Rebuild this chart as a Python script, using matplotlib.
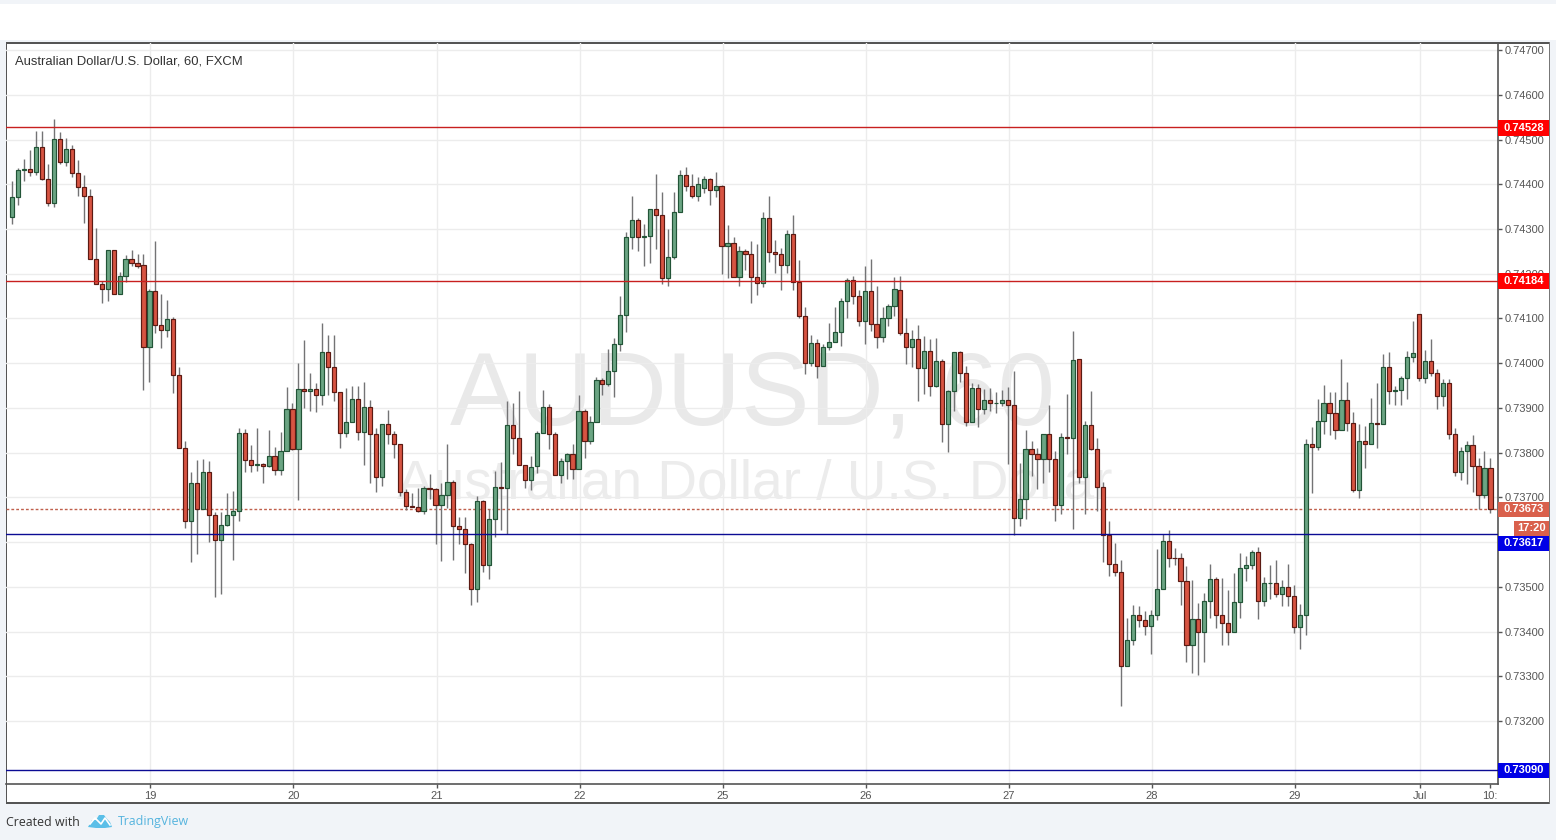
from matplotlib import pyplot as plt
from matplotlib.patches import Polygon, Rectangle
from matplotlib.ticker import FixedLocator
import numpy as np

# prices are stored in units of 0.00001
opens = [74327,74372,74433,74435,74427,74484,74412,74359,74502,74450,
         74480,74426,74395,74374,74232,74178,74167,74252,74154,74196,
         74232,74223,74219,74036,74161,74085,74074,74098,73973,73810,
         73647,73732,73674,73756,73661,73605,73638,73661,73670,73844,
         73783,73772,73774,73770,73792,73761,73803,73897,73808,73942,
         73937,73942,73928,74026,73991,73935,73844,73868,73920,73846,
         73902,73842,73746,73864,73842,73819,73712,73681,73679,73670,
         73721,73719,73683,73706,73735,73636,73629,73596,73494,73692,
         73549,73652,73723,73721,73862,73833,73772,73739,73769,73845,
         73903,73842,73751,73782,73796,73764,73894,73825,73869,73963,
         73954,73983,74043,74108,74282,74320,74282,74284,74344,74331,
         74190,74237,74338,74420,74396,74373,74391,74411,74387,74396,
         74262,74268,74193,74251,74244,74193,74179,74324,74248,74244,
         74219,74288,74181,74106,74001,74045,73994,74036,74048,74070,
         74139,74186,74150,74094,74161,74088,74059,74101,74128,74164,
         74068,74037,74055,73990,74028,73950,74004,73863,73937,74024,
         73979,73868,73944,73897,73917,73910,73912,73917,73906,73654,
         73696,73807,73798,73785,73841,73785,73682,73834,73832,74009,
         73746,73862,73808,73723,73616,73552,73534,73322,73382,73436,
         73425,73413,73436,73496,73603,73565,73564,73514,73369,73429,
         73400,73469,73518,73438,73420,73400,73467,73541,73549,73578,
         73469,73508,73509,73484,73500,73480,73411,73438,73819,73812,
         73870,73910,73888,73850,73917,73866,73716,73826,73819,73866,
         73864,73991,73937,73939,73966,74013,74111,73968,74004,73977,
         73926,73955,73841,73756,73803,73817,73770,73705,73765]
highs = [74407,74437,74457,74477,74520,74520,74445,74545,74517,74503,
         74489,74455,74420,74390,74302,74184,74252,74252,74205,74242,
         74252,74244,74245,74165,74273,74155,74141,74104,73991,73826,
         73756,73784,73786,73782,73668,73668,73710,73715,73855,73853,
         73818,73855,73777,73851,73813,73846,73946,73910,74000,74052,
         73978,73955,74089,74063,74063,73935,73944,73949,73949,73958,
         73918,73855,73864,73896,73848,73819,73719,73710,73722,73726,
         73753,73721,73732,73820,73738,73655,73656,73599,73704,73695,
         73673,73758,73780,73916,73911,73938,73772,73793,73849,73941,
         73909,73847,73789,73800,73820,73929,73897,73881,73970,73967,
         74031,74057,74151,74294,74374,74324,74312,74344,74423,74382,
         74300,74383,74432,74439,74423,74416,74419,74413,74428,74399,
         74309,74282,74262,74255,74274,74267,74338,74374,74276,74258,
         74298,74332,74231,74126,74064,74055,74044,74090,74126,74146,
         74190,74195,74164,74218,74233,74172,74126,74133,74193,74196,
         74102,74075,74085,74060,74055,74057,74010,73941,74024,74028,
         73993,73955,73953,73942,73944,73935,73940,73946,73982,73776,
         73851,73826,73810,73841,73906,73803,73843,73931,74071,74009,
         73871,73938,73833,73735,73646,73597,73561,73430,73459,73457,
         73445,73448,73584,73619,73626,73586,73575,73546,73515,73463,
         73486,73552,73523,73519,73492,73530,73575,73568,73583,73590,
         73521,73548,73561,73516,73552,73503,73461,73830,73858,73920,
         73951,73936,73936,74009,73958,73891,73864,73860,73922,73956,
         74020,74025,73949,73971,74027,74094,74111,74029,74054,73986,
         73964,73964,73855,73813,73826,73840,73788,73804,73788]
lows = [74311,74353,74407,74418,74421,74409,74351,74349,74445,74442,
        74416,74373,74314,74232,74178,74135,74140,74154,74154,74182,
        74218,74213,73939,73957,74068,74035,74059,73934,73810,73631,
        73555,73573,73674,73600,73478,73483,73635,73560,73646,73757,
        73757,73760,73731,73768,73751,73751,73803,73805,73695,73900,
        73892,73890,73907,73928,73916,73811,73836,73868,73829,73773,
        73731,73712,73726,73820,73787,73702,73671,73679,73668,73662,
        73697,73595,73558,73677,73561,73595,73530,73459,73466,73532,
        73517,73611,73626,73619,73796,73772,73722,73717,73755,73845,
        73809,73751,73732,73742,73742,73764,73787,73820,73869,73928,
        73949,73924,74028,74069,74256,74251,74218,74225,74256,74178,
        74173,74234,74338,74385,74370,74363,74381,74354,74372,74200,
        74190,74193,74172,74209,74134,74153,74171,74227,74201,74164,
        74201,74163,74100,73975,73993,73966,73994,74029,74048,74038,
        74100,74133,74084,74042,74073,74033,74048,74084,74105,74062,
        73998,73991,73916,73931,73926,73947,73824,73802,73893,73958,
        73859,73868,73857,73886,73892,73888,73904,73775,73616,73636,
        73652,73748,73719,73732,73757,73648,73663,73797,73630,73731,
        73662,73806,73669,73555,73524,73524,73234,73322,73370,73409,
        73392,73350,73426,73496,73544,73548,73460,73332,73307,73303,
        73332,73431,73408,73370,73370,73400,73431,73512,73540,73427,
        73457,73472,73478,73457,73458,73397,73361,73392,73709,73806,
        73841,73840,73831,73850,73848,73713,73699,73766,73819,73811,
        73864,73909,73907,73907,73920,74003,73960,73956,73971,73898,
        73904,73831,73748,73739,73730,73713,73674,73699,73664]
closes = [74372,74433,74434,74427,74484,74412,74359,74502,74450,74480,
          74426,74395,74374,74232,74178,74167,74252,74154,74196,74232,
          74223,74218,74036,74161,74085,74074,74098,73973,73810,73647,
          73732,73674,73756,73661,73605,73638,73661,73670,73844,73783,
          73772,73774,73770,73792,73761,73803,73897,73808,73942,73937,
          73942,73928,74026,73991,73935,73844,73868,73919,73846,73902,
          73842,73746,73864,73842,73819,73712,73681,73679,73670,73721,
          73719,73683,73706,73735,73636,73629,73596,73494,73692,73549,
          73652,73723,73721,73862,73833,73772,73739,73768,73845,73903,
          73842,73751,73782,73796,73764,73894,73825,73869,73963,73954,
          73983,74043,74108,74282,74320,74282,74284,74344,74331,74190,
          74237,74338,74420,74396,74373,74400,74411,74387,74396,74262,
          74268,74193,74251,74244,74193,74179,74324,74248,74244,74219,
          74288,74181,74106,74001,74045,73994,74036,74048,74070,74139,
          74186,74150,74094,74161,74088,74059,74101,74128,74166,74068,
          74037,74055,73990,74028,73950,74004,73863,73937,74024,73979,
          73868,73944,73897,73917,73910,73912,73917,73906,73654,73696,
          73807,73798,73785,73841,73785,73682,73834,73832,74008,73746,
          73862,73808,73723,73616,73552,73534,73322,73382,73436,73425,
          73413,73436,73496,73603,73565,73564,73514,73369,73429,73400,
          73469,73518,73438,73420,73400,73467,73541,73549,73578,73469,
          73509,73509,73484,73500,73480,73411,73438,73819,73812,73870,
          73910,73888,73850,73917,73866,73716,73826,73819,73866,73864,
          73991,73937,73939,73966,74013,74022,73968,74004,73977,73926,
          73955,73841,73756,73803,73817,73770,73705,73765,73673]

price_ticks = [0.732, 0.733, 0.734, 0.735, 0.736, 0.737, 0.738, 0.739, 0.740,
               0.741, 0.742, 0.743, 0.744, 0.745, 0.746, 0.747]
time_ticks = [23, 47, 71, 95, 119, 143, 167, 191, 215, 236, 247.8]
time_labels = ['19', '20', '21', '22', '25', '26', '27', '28', '29', 'Jul', '10:']
red_levels = [0.74528, 0.74184]
blue_levels = [0.73617, 0.73090]
last_price = 0.73673
countdown = '17:20'

W, H = 1556, 840
BG = '#f1f4f8'
GRID = '#ececec'
AXIS = '#555555'
TEXT = '#555555'
FONT = 'Liberation Sans'

plt.rcParams['font.family'] = FONT

fig = plt.figure(figsize=(W / 100, H / 100), dpi=100, facecolor=BG)


def fx(px):
    return px / W


def fy(py):
    return 1 - py / H


def box(x0, y0, x1, y1, color, zorder=5):
    fig.add_artist(Rectangle((fx(x0), fy(y1)), (x1 - x0) / W, (y1 - y0) / H,
                             transform=fig.transFigure, facecolor=color,
                             edgecolor='none', zorder=zorder))


# white strip on top, white panel and its outer frame
box(0, 4, W, 40, 'white', zorder=-5)
box(6, 42, 1549, 803, 'white', zorder=-5)
box(6, 42, 1549, 43.5, AXIS, zorder=-4)
box(6, 42, 7, 803, AXIS, zorder=-4)
box(6, 802, 1549, 803.5, AXIS, zorder=-4)
box(1548.5, 42, 1549.5, 803.5, '#777777', zorder=-4)

ax = fig.add_axes([fx(6.5), fy(784), (1498 - 6.5) / W, (784 - 43) / H])
ax.set_facecolor('none')
ax.set_xlim(-0.98, 249.27)
ax.set_ylim(0.73059, 0.74716)

for side in ['top', 'left']:
    ax.spines[side].set_visible(False)
for side in ['right', 'bottom']:
    ax.spines[side].set_color(AXIS)
    ax.spines[side].set_linewidth(1.2)

ax.yaxis.tick_right()
ax.yaxis.set_major_locator(FixedLocator(price_ticks))
# 0.73600 sits fully behind the blue price label
ax.set_yticklabels(['' if p == 0.736 else f'{p:.5f}' for p in price_ticks])
ax.xaxis.set_major_locator(FixedLocator(np.array(time_ticks) + 0.17))
ax.set_xticklabels(time_labels)
ax.tick_params(axis='both', colors=AXIS, labelcolor=TEXT, labelsize=8,
               length=3, width=1, pad=2)
ax.grid(True, color=GRID, linewidth=1)
ax.set_axisbelow(True)
# the last grid line is not visible in the original
ax.get_xgridlines()[-1].set_visible(False)

# watermark
ax.text(0.5002, 0.521, 'AUDUSD, 60', transform=ax.transAxes, ha='center',
        va='center', fontsize=74, color='#e9e9e9', zorder=0)
ax.text(0.5015, 0.4035, 'Australian Dollar / U.S. Dollar', transform=ax.transAxes,
        ha='center', va='center', fontsize=39.6, color='#ececec', zorder=0)

# horizontal levels
for level in red_levels:
    ax.axhline(level, color='#c8201f', linewidth=1, zorder=4)
for level in blue_levels:
    ax.axhline(level, color='#0b0b94', linewidth=1, zorder=4)
ax.axhline(last_price, color='#c0604c', linewidth=1, linestyle=(0, (2, 1.5)), zorder=1.5)

# candles
o = np.array(opens) / 1e5
h = np.array(highs) / 1e5
l = np.array(lows) / 1e5
c = np.array(closes) / 1e5
idx = np.arange(len(o))
up = c >= o

ax.vlines(idx, l, h, color='#737375', linewidth=1, zorder=2)
ax.bar(idx[up], (c - o)[up], bottom=o[up], width=0.7, color='#6ba583',
       edgecolor='#225437', linewidth=0.85, zorder=3)
ax.bar(idx[~up], (o - c)[~up], bottom=c[~up], width=0.7, color='#d75442',
       edgecolor='#5b1a13', linewidth=0.85, zorder=3)

ax.text(0.0057, 0.9755, 'Australian Dollar/U.S. Dollar, 60, FXCM', transform=ax.transAxes,
        ha='left', va='center', fontsize=9.4, color='#333333', zorder=6)

# price labels on the axis
label_rows = [(128, f'{red_levels[0]:.5f}', '#ff0000', 1498),
              (281, f'{red_levels[1]:.5f}', '#ff0000', 1498),
              (509.5, f'{last_price:.5f}', '#d9604c', 1498),
              (528, countdown, '#d9604c', 1514),
              (543.5, f'{blue_levels[0]:.5f}', '#0000e6', 1498),
              (770, f'{blue_levels[1]:.5f}', '#0000e6', 1498)]
for y, label, color, x0 in label_rows:
    box(x0, y - 7.5, 1549, y + 7.5, color, zorder=7)
    fig.text(fx((x0 + 1549) / 2), fy(y), label, color='white', fontsize=8, fontweight='bold',
             ha='center', va='center', zorder=8)

# footer
fig.text(fx(6), fy(822), 'Created with', fontsize=8.9, color='#333333', family='Open Sans',
         ha='left', va='center')
fig.text(fx(118), fy(822), 'TradingView', fontsize=8.95, color='#55b4de', family='Open Sans',
         ha='left', va='center')
cloud = [(88, 827), (92, 820), (96, 820), (99, 815), (104, 815), (107, 819),
         (110, 822), (112, 827), (105, 828), (96, 828)]
fig.add_artist(Polygon([(fx(x), fy(y)) for x, y in cloud], closed=True,
                       transform=fig.transFigure, facecolor='#5bbfe8', edgecolor='none'))
zigzag = [(90, 824), (95, 818), (101, 824), (105, 818), (110, 825)]
fig.add_artist(plt.Line2D([fx(x) for x, y in zigzag], [fy(y) for x, y in zigzag],
                          transform=fig.transFigure, color='white', linewidth=1.2))

fig.savefig('out.png', dpi=100, facecolor=fig.get_facecolor())
